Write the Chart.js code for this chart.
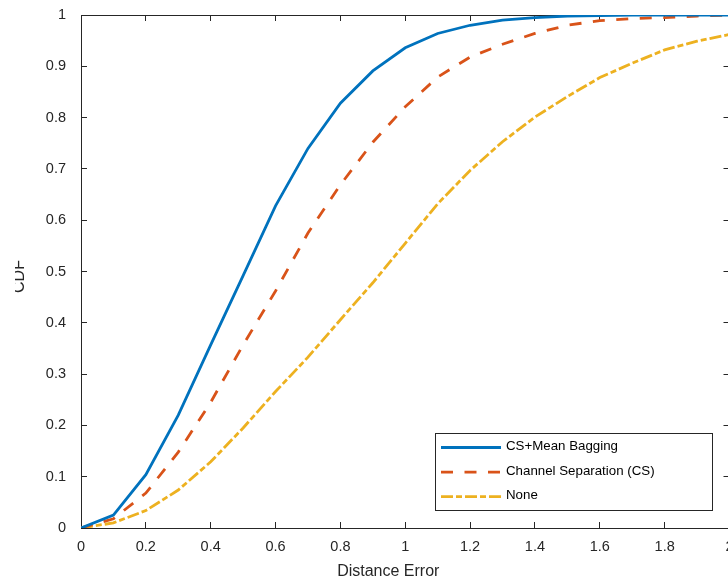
<!DOCTYPE html>
<html>
<head>
<meta charset="utf-8">
<script src="https://cdn.jsdelivr.net/npm/chart.js@4.4.1/dist/chart.umd.min.js"></script>
<style>
  html, body { margin: 0; padding: 0; background: #fff; overflow: hidden; width: 728px; height: 582px; }
  #wrap { position: absolute; left: 0; top: 0; width: 740px; height: 582px; }
</style>
</head>
<body>
<div id="wrap"><canvas id="cdf" width="740" height="582"></canvas></div>
<script>
// Distance error (x) and cumulative distribution values for each method
const distance = [0, 0.1, 0.2, 0.3, 0.4, 0.5, 0.6, 0.7, 0.8, 0.9, 1.0,
                  1.1, 1.2, 1.3, 1.4, 1.5, 1.6, 1.7, 1.8, 1.9, 2.0];
const csMeanBagging = [0, 0.025, 0.104, 0.22, 0.357, 0.492, 0.628, 0.74, 0.828, 0.891, 0.936,
                       0.964, 0.98, 0.99, 0.995, 0.998, 0.999, 1, 1, 1, 1];
const channelSeparation = [0, 0.018, 0.068, 0.148, 0.245, 0.357, 0.462, 0.575, 0.669, 0.752, 0.821,
                           0.879, 0.918, 0.943, 0.964, 0.98, 0.989, 0.993, 0.995, 0.998, 1.0];
const noneMethod = [0, 0.01, 0.034, 0.074, 0.129, 0.195, 0.266, 0.333, 0.406, 0.478, 0.555,
                    0.632, 0.697, 0.753, 0.801, 0.841, 0.878, 0.906, 0.932, 0.949, 0.962];

const seriesNames = ['CS+Mean Bagging', 'Channel Separation (CS)', 'None'];
const xAxisTitle = 'Distance Error';
const yAxisTitle = 'CDF';

const xTickValues = [0, 0.2, 0.4, 0.6, 0.8, 1, 1.2, 1.4, 1.6, 1.8, 2];
const xTickLabels = ['0', '0.2', '0.4', '0.6', '0.8', '1', '1.2', '1.4', '1.6', '1.8', '2'];
const yTickValues = [0, 0.1, 0.2, 0.3, 0.4, 0.5, 0.6, 0.7, 0.8, 0.9, 1];
const yTickLabels = ['0', '0.1', '0.2', '0.3', '0.4', '0.5', '0.6', '0.7', '0.8', '0.9', '1'];

const axisColor = '#262626';
const fontFamily = '"Liberation Sans", Arial, Helvetica, sans-serif';

function points(ys) {
  return distance.map((x, i) => ({ x: x, y: ys[i] }));
}

const inwardGrid = { drawOnChartArea: false, drawTicks: true, tickLength: -6, color: axisColor, lineWidth: 1 };
const boxBorder = { display: true, color: axisColor, width: 1 };

// Fix an axis box size and drop the label overhang padding so the plot box stays put
function fixSize(prop, size) {
  return s => {
    s[prop] = size;
    s.paddingTop = 0; s.paddingBottom = 0; s.paddingLeft = 0; s.paddingRight = 0;
  };
}

// Axis labels: x label a little left of the axis centre, y label trimmed by the figure margin
const axisLabels = {
  id: 'axisLabels',
  afterDraw(chart) {
    const ctx = chart.ctx;
    const a = chart.chartArea;
    ctx.save();
    ctx.fillStyle = axisColor;
    ctx.font = '16px ' + fontFamily;
    ctx.textAlign = 'center';
    ctx.textBaseline = 'middle';
    ctx.fillText(xAxisTitle, (a.left + a.right) / 2 - 17, 572);
    ctx.beginPath();
    ctx.rect(15, 0, 60, chart.height);
    ctx.clip();
    ctx.translate(19.6, (a.top + a.bottom) / 2 + 5);
    ctx.rotate(-Math.PI / 2);
    ctx.fillText(yAxisTitle, 0, 0);
    ctx.restore();
  }
};

// Legend box drawn inside the axes, lower right
const boxLegend = {
  id: 'boxLegend',
  afterDraw(chart) {
    const ctx = chart.ctx;
    ctx.save();
    ctx.fillStyle = '#ffffff';
    ctx.fillRect(435.5, 433.5, 277, 77);
    ctx.strokeStyle = axisColor;
    ctx.lineWidth = 1;
    ctx.setLineDash([]);
    ctx.strokeRect(435.5, 433.5, 277, 77);
    chart.data.datasets.forEach((ds, i) => {
      const y = 447.5 + i * 24.6;
      ctx.strokeStyle = ds.borderColor;
      ctx.lineWidth = ds.borderWidth;
      ctx.lineCap = 'butt';
      ctx.setLineDash(ds.borderDash || []);
      ctx.beginPath();
      ctx.moveTo(441, y);
      ctx.lineTo(501, y);
      ctx.stroke();
      ctx.setLineDash([]);
      ctx.fillStyle = '#000000';
      ctx.font = '13.3px ' + fontFamily;
      ctx.textAlign = 'left';
      ctx.textBaseline = 'middle';
      ctx.fillText(ds.label, 506, y - 1);
    });
    ctx.restore();
  }
};

new Chart(document.getElementById('cdf'), {
  type: 'line',
  data: {
    datasets: [
      { label: seriesNames[0], data: points(csMeanBagging), borderColor: '#0072BD',
        borderWidth: 2.8, pointRadius: 0, tension: 0, fill: false },
      { label: seriesNames[1], data: points(channelSeparation), borderColor: '#D95319',
        borderWidth: 2.8, borderDash: [12, 11.5], pointRadius: 0, tension: 0, fill: false },
      { label: seriesNames[2], data: points(noneMethod), borderColor: '#EDB120',
        borderWidth: 2.8, borderDash: [12, 3, 6, 3], pointRadius: 0, tension: 0, fill: false }
    ]
  },
  options: {
    responsive: false,
    animation: false,
    devicePixelRatio: 1,
    layout: { padding: 0 },
    plugins: { legend: { display: false }, tooltip: { enabled: false } },
    scales: {
      x: {
        type: 'linear', position: 'bottom', min: 0, max: 2,
        afterBuildTicks: s => { s.ticks = xTickValues.map(v => ({ value: v })); },
        afterFit: fixSize('height', 54),
        ticks: { callback: (v, i) => xTickLabels[i], color: axisColor, padding: 16,
                 maxRotation: 0, autoSkip: false, font: { family: fontFamily, size: 14.5 } },
        grid: inwardGrid,
        border: boxBorder
      },
      xTop: {
        type: 'linear', position: 'top', min: 0, max: 2,
        afterBuildTicks: s => { s.ticks = xTickValues.map(v => ({ value: v })); },
        afterFit: fixSize('height', 15),
        ticks: { display: false },
        grid: inwardGrid,
        border: boxBorder
      },
      y: {
        type: 'linear', position: 'left', min: 0, max: 1,
        afterBuildTicks: s => { s.ticks = yTickValues.map(v => ({ value: v })); },
        afterFit: fixSize('width', 81),
        ticks: { callback: (v, i) => yTickLabels[i], color: axisColor, padding: 21,
                 autoSkip: false, font: { family: fontFamily, size: 14.5 } },
        grid: inwardGrid,
        border: boxBorder
      },
      yRight: {
        type: 'linear', position: 'right', min: 0, max: 1,
        afterBuildTicks: s => { s.ticks = yTickValues.map(v => ({ value: v })); },
        afterFit: fixSize('width', 10.5),
        ticks: { display: false },
        grid: inwardGrid,
        border: boxBorder
      }
    }
  },
  plugins: [boxLegend, axisLabels]
});
</script>
</body>
</html>
